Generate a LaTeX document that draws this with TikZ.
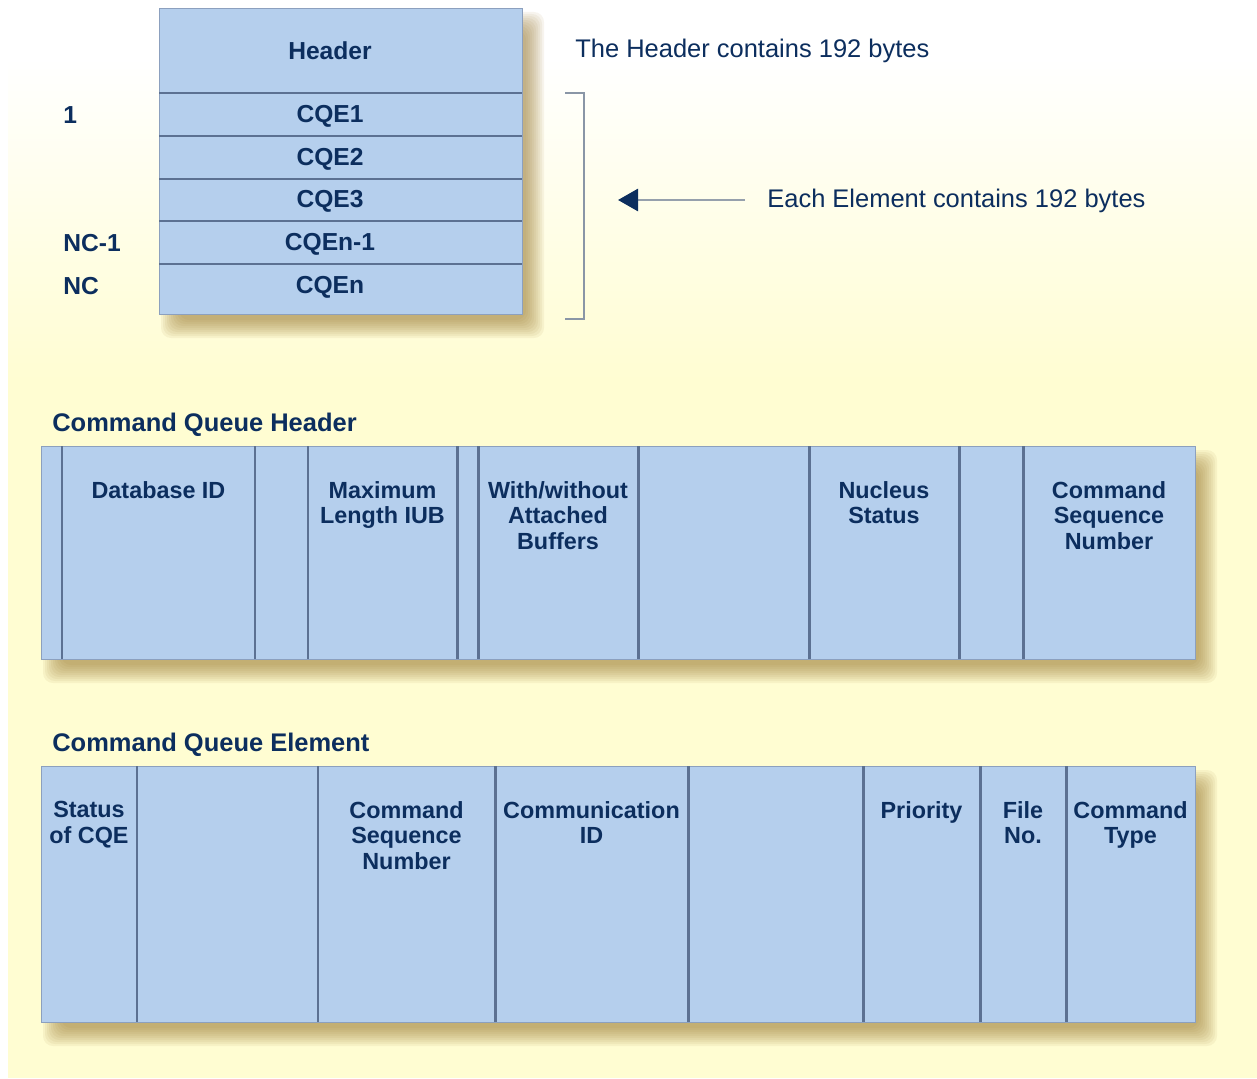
\documentclass[tikz,border=0pt]{standalone}
\usepackage{fontspec}
\setmainfont{Liberation Sans}
\usetikzlibrary{arrows.meta}
\definecolor{navy}{RGB}{12,46,94}
\definecolor{cellblue}{RGB}{181,207,237}
\definecolor{rulegray}{RGB}{92,113,146}
\definecolor{edgegray}{RGB}{140,160,190}
\definecolor{cream}{RGB}{255,253,210}
\definecolor{tan}{RGB}{150,115,40}
\definecolor{brackgray}{RGB}{138,150,166}
\definecolor{linegray}{RGB}{150,160,172}
\newcommand{\softshade}[4]{%
    \foreach \k in {0,...,9}
        \fill[tan, opacity=0.075, rounded corners=0.2cm]
            (#1+2+2*\k, #2+4+2*\k) rectangle (#3+22-2*\k, #4+24-2*\k);}
\begin{document}
\begin{tikzpicture}[x=0.02cm, y=-0.02cm,
    box/.style={rectangle, draw=edgegray, line width=0.5pt, fill=cellblue, anchor=north west, inner sep=0pt},
    rule/.style={draw=rulegray, line width=1.7pt},
    entry/.style={font=\fontsize{14}{16}\selectfont\bfseries, text=navy, inner sep=0pt},
    field/.style={font=\fontsize{13.3}{14.5}\selectfont\bfseries, text=navy, align=center, anchor=north, inner sep=0pt},
    heading/.style={font=\fontsize{14.5}{16}\selectfont\bfseries, text=navy, anchor=west, inner sep=0pt},
    note/.style={font=\fontsize{14.5}{16}\selectfont, text=navy, anchor=west, inner sep=0pt},
    bracket/.style={draw=brackgray, line width=1.4pt},
    pointer/.style={draw=linegray, line width=1.6pt, -{Triangle[length=0.4cm, width=0.44cm, color=navy]}}]

            \useasboundingbox (0,0) rectangle (1257,1078);
            \fill[white] (0,0) rectangle (1257,1078);
            \shade[top color=white, bottom color=cream] (8,58) rectangle (1257,380);
            \fill[cream] (8,379) rectangle (1257,1078);

            \softshade{159}{8}{522}{314}
                \node[box, minimum width=7.26cm, minimum height=6.12cm] at (159, 8) (stack) {};
            \foreach \y in {93,136,179,221,264}
                \draw[rule] (159,\y) -- (522,\y);
                \node[entry] at (330, 51) (hdr) {Header};
                \node[entry] at (330, 116) (cqe1) {CQE1};
                \node[entry] at (330, 159) (cqe2) {CQE2};
                \node[entry] at (330, 201) (cqe3) {CQE3};
                \node[entry] at (330, 244) (cqem) {CQEn-1};
                \node[entry] at (330, 287) (cqen) {CQEn};
                \node[entry, anchor=west] at (63, 115) (one) {1};
                \node[entry, anchor=west] at (63, 243) (ncm) {NC-1};
                \node[entry, anchor=west] at (63, 286) (nc) {NC};

                \node[note] at (575, 51) (hdrnote) {The Header contains 192 bytes};
                \node[note] at (767, 201) (elemnote) {Each Element contains 192 bytes};
                \coordinate (tip) at (618, 200);
            \draw[bracket] (565,93) -- (584,93) -- (584,319) -- (565,319);
            \draw[pointer] ([xshift=-0.44cm, yshift=0.02cm]elemnote.west) -- (tip);

                \node[heading] at (52, 425) (cqhtitle) {Command Queue Header};
            \softshade{41}{446}{1195}{659}
                \node[box, minimum width=23.08cm, minimum height=4.26cm] at (41, 446) (cqh) {};
            \foreach \x in {62,255,308,457,478,638,809,959,1023}
                \draw[rule] (\x,446) -- (\x,659);
                \node[field] at (158.5, 481) (dbid) {Database ID};
                \node[field] at (382.5, 481) (maxiub) {Maximum\\Length IUB};
                \node[field] at (558, 481) (attbuf) {With/without\\Attached\\Buffers};
                \node[field] at (884, 481) (nucst) {Nucleus\\Status};
                \node[field] at (1109, 481) (hseq) {Command\\Sequence\\Number};

                \node[heading] at (52, 745) (cqetitle) {Command Queue Element};
            \softshade{41}{766}{1195}{1022}
                \node[box, minimum width=23.08cm, minimum height=5.12cm] at (41, 766) (cqe) {};
            \foreach \x in {137,318,495,688,863,980,1066}
                \draw[rule] (\x,766) -- (\x,1022);
                \node[field] at (89, 801) (status) {Status\\of CQE};
                \node[field] at (406.5, 801) (eseq) {Command\\Sequence\\Number};
                \node[field] at (591.5, 801) (commid) {Communication\\ID};
                \node[field] at (921.5, 801) (prio) {Priority};
                \node[field] at (1023, 801) (fileno) {File\\No.};
                \node[field] at (1130.5, 801) (cmdtype) {Command\\Type};

            \end{tikzpicture}
\end{document}
